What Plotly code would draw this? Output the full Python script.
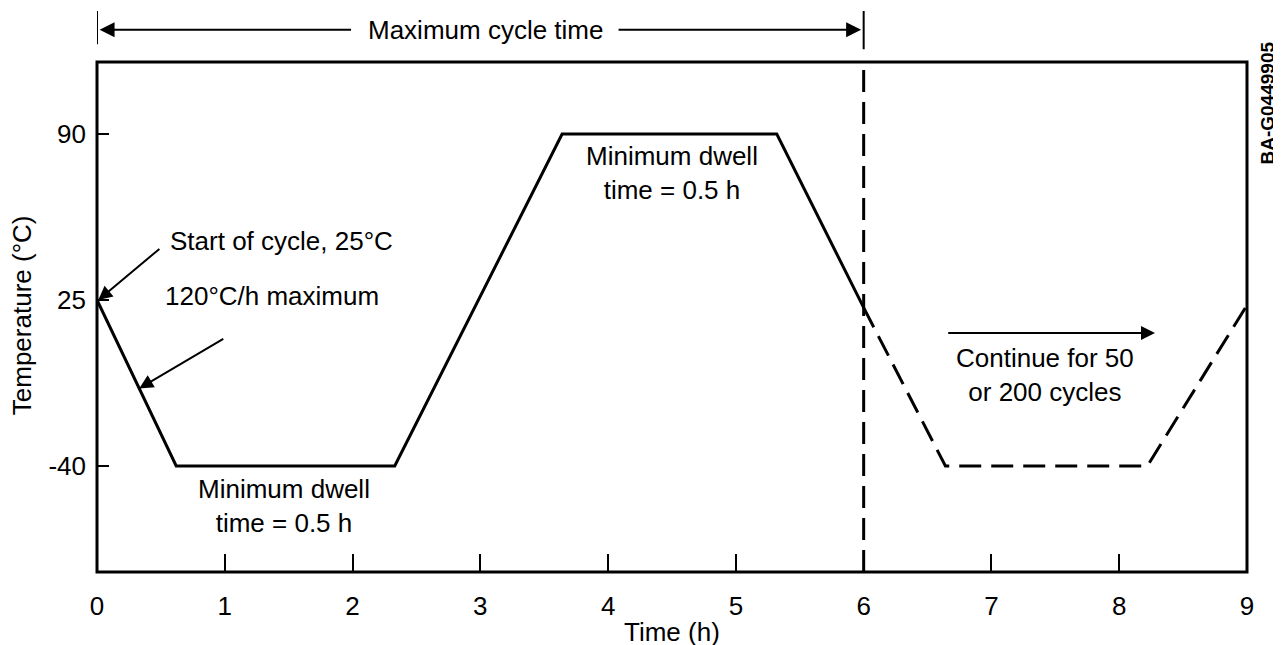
import plotly.graph_objects as go

# ---- data ----
cycle_time = [0, 0.62, 2.33, 3.64, 5.32, 6.0]
cycle_temp = [25, -40, -40, 90, 90, 22]
cont_time = [6.0, 6.64, 8.22, 9.0]
cont_temp = [22, -40, -40, 23]
x_ticks = [0, 1, 2, 3, 4, 5, 6, 7, 8, 9]
y_ticks = [-40, 25, 90]
cycle_end = 6

FONT = "Liberation Sans, Arial, Helvetica, sans-serif"
FS = 26

fig = go.Figure()
fig.add_trace(go.Scatter(x=cycle_time, y=cycle_temp, mode="lines",
                         line=dict(color="black", width=3), showlegend=False, hoverinfo="skip"))
fig.add_trace(go.Scatter(x=cont_time, y=cont_temp, mode="lines",
                         line=dict(color="black", width=3, dash="22px,10px"), showlegend=False, hoverinfo="skip"))

# vertical dashed line at end of cycle
fig.add_shape(type="line", xref="x", yref="paper", x0=cycle_end, x1=cycle_end, y0=0, y1=1,
              line=dict(color="black", width=3, dash="22px,10px"))
# plot frame
fig.add_shape(type="rect", xref="paper", yref="paper", x0=0, x1=1, y0=0, y1=1,
              line=dict(color="black", width=3))
# bracket bars above plot
fig.add_shape(type="line", xref="x", yref="paper", x0=0, x1=0, y0=1.035, y1=1.10,
              line=dict(color="black", width=2))
fig.add_shape(type="line", xref="x", yref="paper", x0=cycle_end, x1=cycle_end, y0=1.025, y1=1.10,
              line=dict(color="black", width=2))

ann = []
tf = dict(family=FONT, size=FS, color="black")
C = dict(xanchor="center", yanchor="middle")
# top bracket
ann.append(dict(x=3.04, y=1.063, xref="x", yref="paper", text="Maximum cycle time",
                showarrow=False, font=tf, **C))
ann.append(dict(x=0.02, y=1.063, xref="x", yref="paper", ax=2.0, ay=0, axref="x", ayref="pixel",
                text="", showarrow=True, arrowhead=2, arrowsize=1.5, arrowwidth=2, arrowcolor="black"))
ann.append(dict(x=5.98, y=1.063, xref="x", yref="paper", ax=4.07, ay=0, axref="x", ayref="pixel",
                text="", showarrow=True, arrowhead=2, arrowsize=1.5, arrowwidth=2, arrowcolor="black"))
# start of cycle
ann.append(dict(x=0.555, y=48.1, xref="x", yref="y", text="Start of cycle, 25\u00b0C",
                showarrow=False, xanchor="left", yanchor="middle", font=tf))
ann.append(dict(x=0.01, y=25, xref="x", yref="y", ax=0.5, ay=45.5, axref="x", ayref="y",
                text="", showarrow=True, arrowhead=2, arrowsize=1.4, arrowwidth=2, arrowcolor="black"))
# ramp rate
ann.append(dict(x=0.52, y=26.6, xref="x", yref="y", text="120\u00b0C/h maximum",
                showarrow=False, xanchor="left", yanchor="middle", font=tf))
ann.append(dict(x=0.33, y=-9.6, xref="x", yref="y", ax=1.0, ay=10.1, axref="x", ayref="y",
                text="", showarrow=True, arrowhead=2, arrowsize=1.4, arrowwidth=2, arrowcolor="black"))
# dwell labels
ann.append(dict(x=1.46, y=-55.7, xref="x", yref="y", text="Minimum dwell<br>time = 0.5 h",
                showarrow=False, font=tf, **C))
ann.append(dict(x=4.5, y=74.7, xref="x", yref="y", text="Minimum dwell<br>time = 0.5 h",
                showarrow=False, font=tf, **C))
# continue
ann.append(dict(x=7.42, y=-4.4, xref="x", yref="y", text="Continue for 50<br>or 200 cycles",
                showarrow=False, font=tf, **C))
ann.append(dict(x=8.28, y=12.1, xref="x", yref="y", ax=6.65, ay=12.1, axref="x", ayref="y",
                text="", showarrow=True, arrowhead=2, arrowsize=1.4, arrowwidth=2, arrowcolor="black"))
# axis titles
ann.append(dict(x=4.5, y=-0.118, xref="x", yref="paper", text="Time (h)", showarrow=False,
                font=tf, **C))
ann.append(dict(x=-0.065, y=0.504, xref="paper", yref="paper", text="Temperature (\u00b0C)",
                showarrow=False, textangle=-90, font=tf, **C))
# id
ann.append(dict(x=1.018, y=0.92, xref="paper", yref="paper", text="<b>BA-G0449905</b>",
                showarrow=False, textangle=-90, font=dict(family=FONT, size=19, color="black"), **C))

fig.update_layout(
    width=1281, height=645,
    margin=dict(l=89, r=42, t=54, b=81),
    paper_bgcolor="white", plot_bgcolor="white",
    annotations=ann,
    xaxis=dict(range=[0, 9], tickvals=x_ticks, ticktext=[str(v) for v in x_ticks],
               ticks="inside", ticklen=18, tickwidth=2, tickcolor="black",
               showgrid=False, zeroline=False, showline=False,
               tickfont=dict(family=FONT, size=FS, color="black"), ticklabelstandoff=16),
    yaxis=dict(range=[-81.5, 118.2], tickvals=y_ticks, ticktext=[str(v) for v in y_ticks],
               ticks="inside", ticklen=12, tickwidth=2, tickcolor="black",
               showgrid=False, zeroline=False, showline=False,
               tickfont=dict(family=FONT, size=FS, color="black"), ticklabelstandoff=10),
)
fig.write_html("out.html")
